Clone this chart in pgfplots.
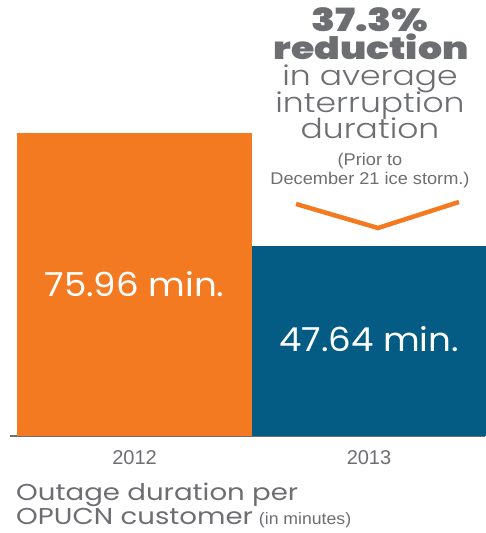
\documentclass[border=0pt]{standalone}
\usepackage{fontspec}
\usepackage{pgfplots}
\pgfplotsset{compat=1.18}
\setmainfont{Liberation Sans}
\newfontfamily\geo{Poppins}[FakeStretch=1.08]
\newfontfamily\geowide{Poppins}[FakeStretch=1.2]
\newfontfamily\geolight{Poppins Light}[FakeStretch=1.2]
\newfontfamily\geoblack{Poppins Black}[FakeStretch=1.22]
\newfontfamily\helv{Liberation Sans}[FakeStretch=1.07]
\definecolor{barorange}{HTML}{F47A22}
\definecolor{barblue}{HTML}{045C84}
\definecolor{txtgray}{HTML}{6D6E71}
\definecolor{axgray}{HTML}{707070}
\newcommand{\fs}[1]{\fontsize{#1}{#1}\selectfont}
\begin{document}
\begin{tikzpicture}[x=1pt,y=1pt]
\useasboundingbox (0,0) rectangle (485,533);
\begin{axis}[
  at={(10pt,97pt)}, anchor=south west,
  scale only axis, width=475pt, height=436pt,
  xmin=-0.531, xmax=1.4947, ymin=0, ymax=109.3,
  hide y axis,
  axis x line*=bottom,
  x axis line style={axgray, line width=2pt},
  xtick={0,1}, xticklabels={2012,2013},
  major tick length=0pt,
  xticklabel style={anchor=base, yshift=-29pt, font=\fs{20}, text=txtgray},
  ybar, bar width=1, bar shift=0pt,
  clip=false,
]
\addplot[fill=barorange, draw=none] coordinates {(0,75.96)};
\addplot[fill=barblue, draw=none] coordinates {(1,47.64)};
\node[text=white, font=\geo\fs{33}, anchor=base, inner sep=0pt] at (axis cs:0,34.85) {75.96 min.};
\node[text=white, font=\geo\fs{33}, anchor=base, inner sep=0pt] at (axis cs:1,21.06) {47.64 min.};
\end{axis}
% call-out above the 2013 bar
\begin{scope}[every node/.style={inner sep=0pt, anchor=base, text=txtgray}]
\node[font=\geoblack\fs{32}] at (370,501) {37.3\%};
\node[font=\geoblack\fs{31}] at (371,473) {reduction};
\node[font=\geolight\fs{27.5}] at (370,447) {in average};
\node[font=\geolight\fs{27.5}] at (370,420) {interruption};
\node[font=\geolight\fs{27.5}] at (370,394) {duration};
\node[font=\helv\fs{17}] at (370,367) {(Prior to};
\node[font=\helv\fs{17}] at (370,348) {December 21 ice storm.)};
\end{scope}
\draw[barorange, line width=4.5pt] (296,329) -- (378,305) -- (459,331);
% caption
\begin{scope}[every node/.style={inner sep=0pt, anchor=base west, text=txtgray}]
\node[font=\geowide\fs{23}] at (16,32) {Outage duration per};
\node[font=\geowide\fs{23}] at (16,8.5) {OPUCN customer\hspace{6pt}{\helv\fs{16.5}(in minutes)}};
\end{scope}
\end{tikzpicture}
\end{document}
